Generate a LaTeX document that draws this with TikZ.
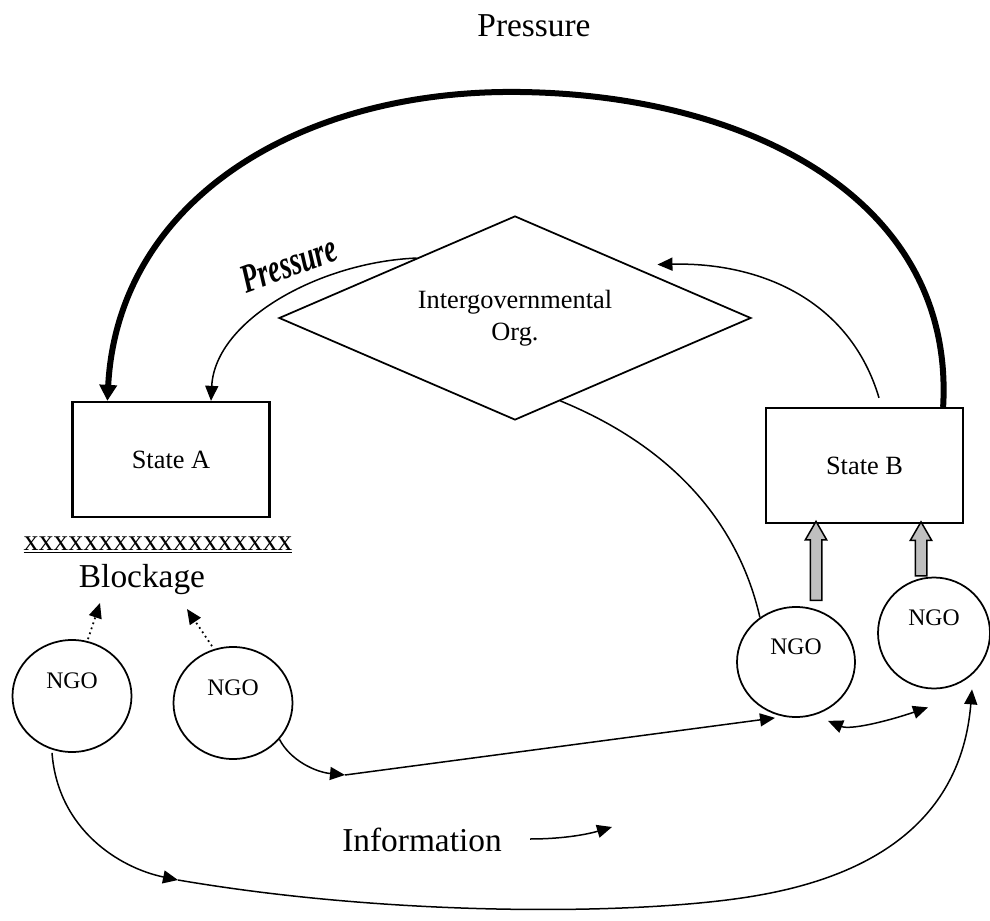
\documentclass[tikz,border=0pt]{standalone}
\usepackage{fontspec}
\setmainfont{Liberation Serif}
\usepackage{graphicx}
\usetikzlibrary{shapes, arrows.meta, positioning}
\tikzstyle{statebox} = [rectangle, minimum width=39.4mm, minimum height=23mm, draw=black, line width=0.45mm, fill=white, font=\fontsize{15}{18}\selectfont]
\tikzstyle{ngo} = [ellipse, minimum width=23.8mm, minimum height=22.4mm, draw=black, line width=0.35mm, inner sep=0pt]
\tikzstyle{ngotext} = [yshift=3mm, font=\fontsize{13.5}{16}\selectfont]
\tikzstyle{igo} = [diamond, aspect=2.3, minimum width=94.4mm, minimum height=40.8mm, draw=black, line width=0.35mm, align=center, inner sep=0pt, font=\fontsize{15}{18}\selectfont]
\tikzstyle{big} = [font=\fontsize{19}{23}\selectfont]
\tikzstyle{link} = [line width=0.3mm, -{Triangle[length=3mm, width=2.6mm]}]
\tikzstyle{blockarrow} = [single arrow, draw=black, fill=black!25, line width=0.3mm, minimum width=4mm, single arrow head extend=1mm, inner sep=1mm, single arrow tip angle=60, rotate=90, anchor=tail]

\begin{document}
\begin{tikzpicture}[x=0.2mm, y=-0.2mm]
\useasboundingbox (0,0) rectangle (990,921);
\node (top) [big] at (534,26) {Pressure};
\node (igo) [igo] at (515,318) {Intergovernmental\\Org.};
\node (sa) [statebox] at (171,459.5) {State A};
\node (sb) [statebox] at (864.5,465.5) {State B};
\node (xx) [font=\fontsize{17}{20}\selectfont] at (158,545) {\underline{xxxxxxxxxxxxxxxxxx}};
\node (blk) [big] at (142,580) {Blockage};
\node (n1) [ngo, label={[ngotext]center:NGO}] at (72,696) {};
\node (n2) [ngo, label={[ngotext]center:NGO}] at (233,703) {};
\node (n3) [ngo, minimum width=23.6mm, minimum height=22mm, label={[ngotext]center:NGO}] at (796,662) {};
\node (n4) [ngo, minimum width=22.4mm, minimum height=22.2mm, label={[ngotext]center:NGO}] at (934,633) {};
\node (press) [rotate=20, font=\fontsize{23}{26}\selectfont\bfseries\itshape] at (289,264) {\scalebox{0.68}[1]{Pressure}};
\node (info) [big] at (422,840) {Information};
\coordinate (b1) at (100,603);
\coordinate (b2) at (187,609);
\coordinate (m1) at (345,775);
\coordinate (m2) at (178,880);
\coordinate (i1) at (530,839);
\coordinate (i2) at (612,827);
\draw[line width=1.2mm, -{Triangle[length=3.2mm, width=3.4mm]}] ([xshift=-4.2mm]sb.north east) .. controls (955,200) and (750,95) .. (520,92) .. controls (300,89) and (118,200) .. ([xshift=7.2mm]sa.north west);
\draw[link] ([xshift=4mm,yshift=1.7mm]igo.north west) .. controls (320,262) and (215,320) .. ([xshift=8mm]sa.north);
\draw[link] ([xshift=2.9mm,yshift=1.8mm]sb.north) .. controls (850,300) and (760,262) .. ([xshift=4.8mm,yshift=0.4mm]igo.north east);
\draw[line width=0.3mm] ([xshift=-14.6mm,yshift=-6.3mm]igo.south east) .. controls (680,450) and (740,530) .. (n3.129);
\draw[dotted, line width=0.35mm, -{Triangle[length=3mm, width=2.6mm]}] ([xshift=3.2mm]n1.north) -- (b1);
\draw[dotted, line width=0.35mm, -{Triangle[length=3mm, width=2.6mm]}] ([xshift=-4.2mm]n2.north) -- (b2);
\draw[link] (n2.-38) .. controls (290,760) and (315,772) .. (m1);
\draw[link] (m1) -- ([xshift=-4.2mm]n3.south);
\draw[line width=0.3mm, {Triangle[length=3mm, width=2.6mm]}-{Triangle[length=3mm, width=2.6mm]}] ([xshift=6.4mm,yshift=-0.6mm]n3.south) .. controls (850,730) and (885,722) .. ([xshift=-1.2mm,yshift=-3.6mm]n4.south);
\draw[link] ([xshift=-4mm]n1.south) .. controls (58,830) and (120,868) .. (m2);
\draw[link] (m2) .. controls (400,918) and (650,915) .. (760,895) .. controls (900,870) and (963,800) .. ([xshift=7.6mm]n4.south);
\draw[link] (i1) .. controls (560,839) and (585,835) .. (i2);
\node (g1) [blockarrow, minimum height=15.8mm] at ([xshift=4mm,yshift=1mm]n3.north) {};
\node (g2) [blockarrow, minimum height=10.8mm] at ([xshift=-2.6mm]n4.north) {};
\end{tikzpicture}
\end{document}
